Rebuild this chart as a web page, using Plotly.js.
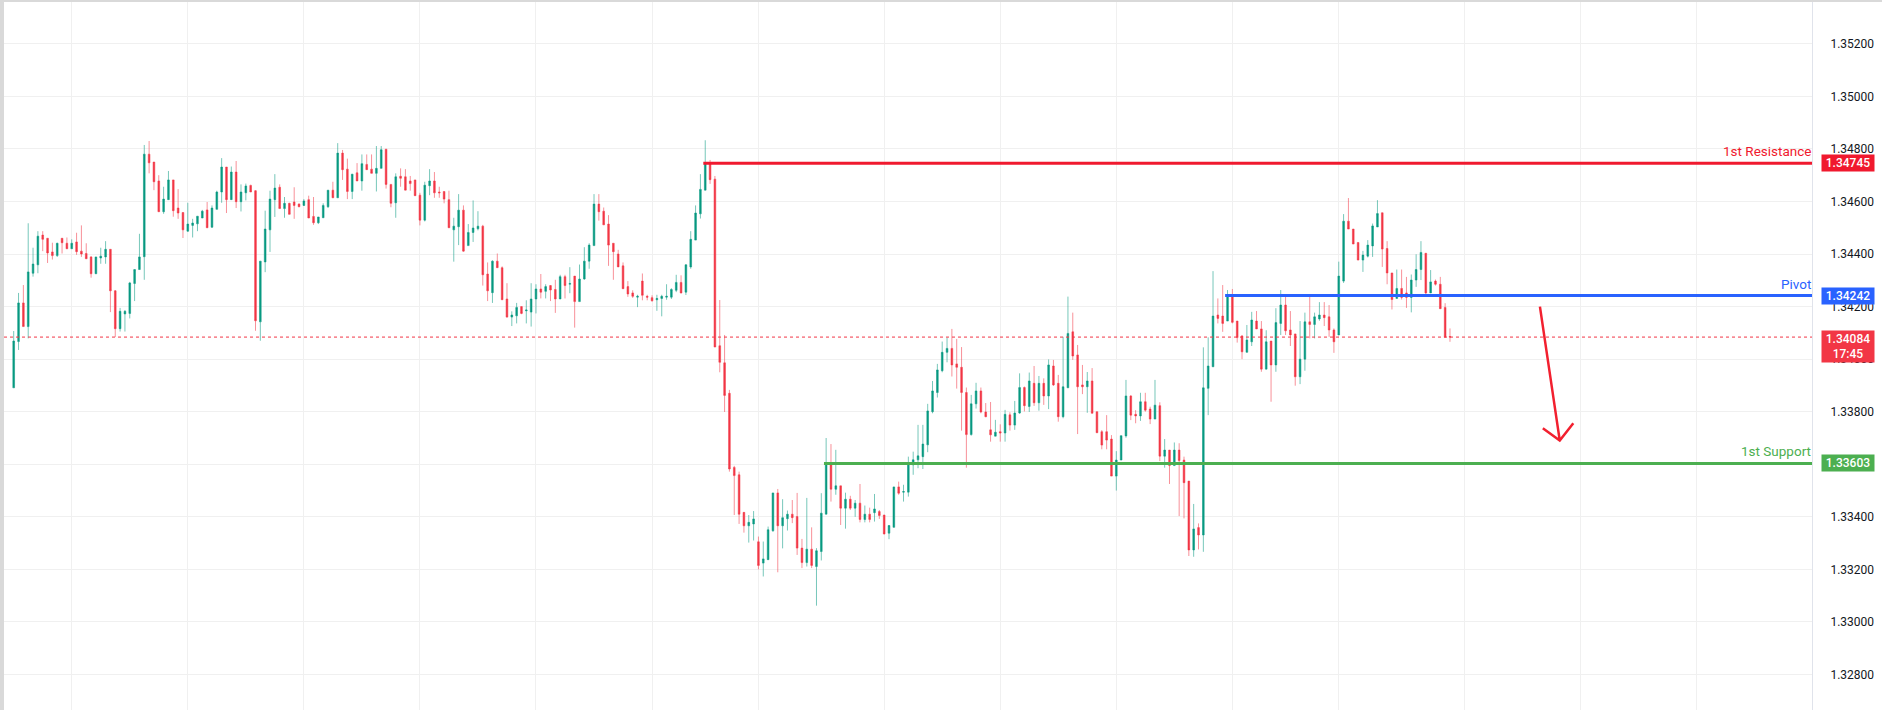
<!DOCTYPE html>
<html>
<head>
<meta charset="utf-8">
<script src="https://cdn.plot.ly/plotly-3.0.1.min.js"></script>
<style>
  html, body { margin: 0; padding: 0; background: #d9d9d9; width: 1882px; height: 710px; overflow: hidden; }
  #chart { position: absolute; left: 4px; top: 2px; width: 1878px; height: 708px; background: #fff; }
</style>
</head>
<body>
<div id="chart"></div>
<script>
// ---------- DATA (hourly candles) ----------
const openP = [
1.33891,1.34067,1.34214,1.34124,1.34327,1.34359,1.34472,1.34460,1.34408,1.34394,
1.34460,1.34441,1.34420,1.34446,1.34411,1.34402,1.34389,1.34325,1.34385,1.34389,
1.34418,1.34260,1.34116,1.34172,1.34174,1.34288,1.34341,1.34390,1.34780,1.34750,
1.34678,1.34561,1.34607,1.34682,1.34575,1.34558,1.34487,1.34509,1.34515,1.34537,
1.34568,1.34502,1.34570,1.34636,1.34731,1.34607,1.34712,1.34599,1.34633,1.34661,
1.34641,1.34142,1.34370,1.34492,1.34607,1.34654,1.34573,1.34593,1.34598,1.34590,
1.34585,1.34607,1.34543,1.34519,1.34538,1.34580,1.34643,1.34614,1.34784,1.34723,
1.34638,1.34709,1.34678,1.34741,1.34723,1.34707,1.34726,1.34799,1.34665,1.34595,
1.34696,1.34694,1.34678,1.34682,1.34624,1.34529,1.34660,1.34678,1.34636,1.34638,
1.34607,1.34492,1.34504,1.34567,1.34432,1.34482,1.34496,1.34506,1.34324,1.34253,
1.34373,1.34348,1.34229,1.34160,1.34165,1.34200,1.34184,1.34179,1.34229,1.34267,
1.34258,1.34280,1.34265,1.34229,1.34314,1.34285,1.34316,1.34219,1.34305,1.34373,
1.34432,1.34590,1.34563,1.34514,1.34441,1.34400,1.34355,1.34276,1.34252,1.34236,
1.34297,1.34239,1.34234,1.34226,1.34231,1.34236,1.34236,1.34262,1.34292,1.34255,
1.34351,1.34453,1.34553,1.34643,1.34746,1.34685,1.34051,1.33986,1.33870,1.33588,
1.33560,1.33417,1.33366,1.33373,1.33305,1.33224,1.33237,1.33347,1.33491,1.33366,
1.33393,1.33410,1.33401,1.33281,1.33226,1.33277,1.33211,1.33268,1.33410,1.33598,
1.33505,1.33518,1.33433,1.33467,1.33433,1.33452,1.33390,1.33410,1.33416,1.33420,
1.33407,1.33338,1.33360,1.33514,1.33494,1.33494,1.33598,1.33617,1.33629,1.33674,
1.33800,1.33873,1.33956,1.34026,1.34041,1.33982,1.33969,1.33873,1.33713,1.33830,
1.33879,1.33799,1.33731,1.33707,1.33724,1.33719,1.33788,1.33749,1.33795,1.33892,
1.33820,1.33908,1.33834,1.33908,1.33860,1.33974,1.33908,1.33781,1.33891,1.34104,
1.34016,1.33902,1.33895,1.33917,1.33800,1.33724,1.33724,1.33696,1.33555,1.33616,
1.33708,1.33860,1.33790,1.33784,1.33838,1.33810,1.33772,1.33823,1.33631,1.33654,
1.33595,1.33654,1.33616,1.33536,1.33274,1.33359,1.33331,1.33889,1.33971,1.34168,
1.34164,1.34145,1.34238,1.34145,1.34088,1.34026,1.34066,1.34145,1.34115,1.33962,
1.34069,1.33978,1.34136,1.34206,1.34111,1.34096,1.33933,1.34000,1.34142,1.34132,
1.34153,1.34168,1.34161,1.34111,1.34092,1.34297,1.34525,1.34495,1.34444,1.34377,
1.34392,1.34431,1.34503,1.34557,1.34421,1.34328,1.34231,1.34269,1.34252,1.34235,
1.34301,1.34341,1.34403,1.34252,1.34297,1.34285,1.34197,1.34086
];
const highP = [
1.34107,1.34252,1.34282,1.34517,1.34424,1.34487,1.34487,1.34460,1.34443,1.34443,
1.34460,1.34463,1.34456,1.34481,1.34509,1.34441,1.34392,1.34389,1.34424,1.34449,
1.34418,1.34263,1.34195,1.34187,1.34294,1.34341,1.34477,1.34815,1.34830,1.34750,
1.34700,1.34656,1.34716,1.34682,1.34647,1.34558,1.34595,1.34534,1.34544,1.34568,
1.34598,1.34585,1.34641,1.34765,1.34731,1.34733,1.34754,1.34665,1.34668,1.34664,
1.34643,1.34373,1.34565,1.34641,1.34704,1.34665,1.34617,1.34595,1.34654,1.34593,
1.34609,1.34622,1.34617,1.34541,1.34593,1.34643,1.34675,1.34822,1.34796,1.34763,
1.34704,1.34746,1.34779,1.34779,1.34779,1.34811,1.34811,1.34799,1.34665,1.34707,
1.34726,1.34723,1.34697,1.34682,1.34633,1.34675,1.34723,1.34712,1.34656,1.34638,
1.34641,1.34538,1.34628,1.34585,1.34514,1.34604,1.34563,1.34511,1.34368,1.34376,
1.34402,1.34353,1.34289,1.34182,1.34214,1.34200,1.34224,1.34289,1.34285,1.34324,
1.34285,1.34282,1.34302,1.34321,1.34321,1.34350,1.34316,1.34360,1.34426,1.34441,
1.34628,1.34628,1.34577,1.34548,1.34441,1.34416,1.34368,1.34297,1.34262,1.34245,
1.34326,1.34245,1.34243,1.34245,1.34245,1.34285,1.34270,1.34321,1.34319,1.34361,
1.34487,1.34585,1.34704,1.34833,1.34758,1.34697,1.34225,1.34092,1.33883,1.33594,
1.33572,1.33417,1.33407,1.33422,1.33325,1.33306,1.33363,1.33491,1.33506,1.33467,
1.33424,1.33464,1.33491,1.33316,1.33472,1.33360,1.33281,1.33490,1.33700,1.33677,
1.33655,1.33518,1.33492,1.33480,1.33464,1.33525,1.33443,1.33435,1.33487,1.33426,
1.33407,1.33369,1.33514,1.33534,1.33522,1.33629,1.33648,1.33750,1.33750,1.33830,
1.33917,1.33982,1.34067,1.34082,1.34115,1.34077,1.34046,1.33892,1.33864,1.33910,
1.33892,1.33833,1.33837,1.33769,1.33752,1.33807,1.33798,1.33841,1.33946,1.33896,
1.33949,1.33974,1.33936,1.33927,1.33999,1.33997,1.33940,1.34085,1.34238,1.34177,
1.34054,1.33978,1.33951,1.33966,1.33800,1.33730,1.33787,1.33711,1.33650,1.33709,
1.33921,1.33863,1.33806,1.33872,1.33872,1.33819,1.33921,1.33836,1.33696,1.33654,
1.33683,1.33680,1.33629,1.33536,1.33449,1.33375,1.34045,1.34083,1.34335,1.34231,
1.34282,1.34263,1.34267,1.34145,1.34092,1.34130,1.34180,1.34183,1.34145,1.34110,
1.34069,1.34194,1.34263,1.34238,1.34183,1.34096,1.34145,1.34177,1.34244,1.34177,
1.34217,1.34217,1.34206,1.34117,1.34371,1.34552,1.34613,1.34495,1.34444,1.34412,
1.34453,1.34516,1.34605,1.34557,1.34449,1.34328,1.34341,1.34341,1.34313,1.34322,
1.34399,1.34449,1.34403,1.34339,1.34303,1.34313,1.34213,1.34117
];
const lowP = [
1.33891,1.34035,1.34124,1.34079,1.34314,1.34327,1.34411,1.34366,1.34379,1.34389,
1.34402,1.34420,1.34420,1.34397,1.34389,1.34382,1.34310,1.34325,1.34363,1.34363,
1.34179,1.34084,1.34105,1.34105,1.34155,1.34221,1.34341,1.34302,1.34707,1.34643,
1.34561,1.34553,1.34607,1.34542,1.34534,1.34461,1.34485,1.34463,1.34487,1.34537,
1.34500,1.34500,1.34570,1.34595,1.34556,1.34607,1.34575,1.34562,1.34604,1.34636,
1.34108,1.34070,1.34331,1.34408,1.34541,1.34573,1.34538,1.34551,1.34534,1.34578,
1.34583,1.34537,1.34511,1.34514,1.34538,1.34575,1.34614,1.34614,1.34682,1.34609,
1.34609,1.34678,1.34641,1.34721,1.34707,1.34638,1.34726,1.34649,1.34578,1.34538,
1.34656,1.34643,1.34641,1.34622,1.34509,1.34524,1.34624,1.34614,1.34614,1.34593,
1.34500,1.34371,1.34434,1.34409,1.34432,1.34446,1.34490,1.34280,1.34221,1.34214,
1.34348,1.34226,1.34158,1.34126,1.34136,1.34171,1.34136,1.34124,1.34174,1.34231,
1.34231,1.34221,1.34176,1.34229,1.34231,1.34251,1.34120,1.34219,1.34302,1.34344,
1.34432,1.34527,1.34511,1.34355,1.34302,1.34351,1.34268,1.34237,1.34233,1.34198,
1.34224,1.34224,1.34219,1.34184,1.34163,1.34226,1.34229,1.34255,1.34250,1.34244,
1.34344,1.34453,1.34535,1.34643,1.34667,1.34046,1.33950,1.33799,1.33572,1.33407,
1.33373,1.33340,1.33302,1.33310,1.33200,1.33173,1.33237,1.33343,1.33189,1.33280,
1.33348,1.33376,1.33255,1.33205,1.33211,1.33205,1.33062,1.33234,1.33410,1.33458,
1.33484,1.33369,1.33355,1.33426,1.33400,1.33379,1.33379,1.33379,1.33382,1.33392,
1.33333,1.33315,1.33360,1.33484,1.33458,1.33477,1.33560,1.33585,1.33582,1.33646,
1.33794,1.33854,1.33950,1.33988,1.33934,1.33888,1.33728,1.33587,1.33709,1.33812,
1.33794,1.33779,1.33686,1.33707,1.33686,1.33686,1.33728,1.33731,1.33792,1.33801,
1.33799,1.33822,1.33804,1.33826,1.33810,1.33898,1.33762,1.33775,1.33891,1.33997,
1.33715,1.33867,1.33796,1.33794,1.33720,1.33657,1.33657,1.33555,1.33500,1.33616,
1.33701,1.33768,1.33756,1.33765,1.33800,1.33753,1.33772,1.33612,1.33587,1.33525,
1.33595,1.33403,1.33394,1.33251,1.33248,1.33276,1.33267,1.33787,1.33971,1.34136,
1.34104,1.34145,1.34136,1.34063,1.34000,1.34026,1.34050,1.34115,1.33952,1.33962,
1.33838,1.33952,1.34092,1.34092,1.34050,1.33899,1.33905,1.33956,1.34079,1.34079,
1.34146,1.34126,1.34085,1.34024,1.34092,1.34290,1.34495,1.34438,1.34377,1.34332,
1.34387,1.34389,1.34503,1.34351,1.34285,1.34189,1.34231,1.34227,1.34195,1.34178,
1.34275,1.34301,1.34244,1.34252,1.34280,1.34192,1.34083,1.34066
];
const closeP = [
1.34069,1.34214,1.34124,1.34332,1.34362,1.34468,1.34456,1.34404,1.34394,1.34441,
1.34443,1.34420,1.34441,1.34409,1.34400,1.34382,1.34325,1.34389,1.34392,1.34418,
1.34260,1.34116,1.34182,1.34182,1.34290,1.34341,1.34389,1.34780,1.34747,1.34675,
1.34561,1.34609,1.34682,1.34565,1.34556,1.34492,1.34514,1.34518,1.34544,1.34563,
1.34500,1.34575,1.34636,1.34731,1.34607,1.34712,1.34599,1.34636,1.34659,1.34636,
1.34146,1.34373,1.34495,1.34609,1.34651,1.34573,1.34593,1.34551,1.34585,1.34580,
1.34602,1.34537,1.34519,1.34541,1.34585,1.34643,1.34614,1.34784,1.34721,1.34638,
1.34704,1.34678,1.34744,1.34721,1.34707,1.34726,1.34797,1.34665,1.34593,1.34694,
1.34688,1.34643,1.34668,1.34622,1.34529,1.34662,1.34678,1.34633,1.34633,1.34609,
1.34500,1.34506,1.34567,1.34411,1.34482,1.34499,1.34506,1.34321,1.34260,1.34373,
1.34348,1.34226,1.34160,1.34168,1.34197,1.34174,1.34187,1.34229,1.34267,1.34255,
1.34276,1.34263,1.34229,1.34314,1.34280,1.34288,1.34219,1.34305,1.34373,1.34434,
1.34590,1.34561,1.34511,1.34434,1.34409,1.34351,1.34268,1.34248,1.34239,1.34239,
1.34243,1.34236,1.34222,1.34231,1.34239,1.34239,1.34265,1.34292,1.34252,1.34359,
1.34456,1.34556,1.34646,1.34746,1.34683,1.34046,1.33988,1.33862,1.33582,1.33557,
1.33410,1.33366,1.33379,1.33392,1.33215,1.33240,1.33351,1.33491,1.33366,1.33397,
1.33410,1.33397,1.33281,1.33226,1.33277,1.33215,1.33271,1.33414,1.33604,1.33505,
1.33518,1.33433,1.33467,1.33433,1.33452,1.33390,1.33410,1.33390,1.33430,1.33405,
1.33335,1.33367,1.33514,1.33490,1.33496,1.33604,1.33617,1.33632,1.33677,1.33803,
1.33879,1.33959,1.34026,1.34041,1.33978,1.33969,1.33873,1.33713,1.33830,1.33879,
1.33799,1.33781,1.33712,1.33722,1.33719,1.33790,1.33749,1.33795,1.33892,1.33823,
1.33917,1.33834,1.33908,1.33860,1.33978,1.33902,1.33781,1.33895,1.34098,1.34012,
1.33895,1.33895,1.33917,1.33794,1.33720,1.33673,1.33692,1.33555,1.33616,1.33709,
1.33860,1.33787,1.33784,1.33838,1.33806,1.33772,1.33825,1.33631,1.33654,1.33595,
1.33654,1.33614,1.33530,1.33274,1.33354,1.33331,1.33891,1.33974,1.34164,1.34155,
1.34136,1.34244,1.34140,1.34082,1.34028,1.34073,1.34149,1.34115,1.33962,1.34066,
1.33978,1.34139,1.34206,1.34108,1.34092,1.33933,1.34000,1.34142,1.34132,1.34161,
1.34168,1.34158,1.34111,1.34066,1.34316,1.34525,1.34495,1.34438,1.34377,1.34396,
1.34434,1.34507,1.34554,1.34419,1.34328,1.34227,1.34269,1.34235,1.34235,1.34301,
1.34341,1.34406,1.34252,1.34294,1.34285,1.34192,1.34083,1.34084
];

// Daily separators (bar index of each time-axis mark)
const dayMarks = [12, 36, 60, 84, 108, 132, 154, 180, 204, 228, 252, 274, 300, 324, 348];
// Price axis ticks
const priceTicks = [1.328, 1.330, 1.332, 1.334, 1.336, 1.338, 1.340, 1.342, 1.344, 1.346, 1.348, 1.350, 1.352];

// Key levels
const levelNames  = ['1st Resistance', 'Pivot', '1st Support'];
const levelValues = [1.34745, 1.34242, 1.33603];
const levelStart  = [142.6, 250.5, 167.55];   // bar index where each level is drawn from
const levelColors = ['#F0192E', '#2962FF', '#4CAF50'];

// Drawn projection arrow (bar index, price)
const arrowFrom  = [315.6, 1.34200];
const arrowTip   = [319.7, 1.33690];
const arrowHeadL = [316.2, 1.33737];
const arrowHeadR = [322.5, 1.33756];

const countdown = '17:45';

// ---------- CHART ----------
const xIdx = closeP.map((_, i) => i);
const xRange = [-2.006, 371.86];
const yRange = [1.32665, 1.35359];
const lastClose = closeP[closeP.length - 1];
const FONT = 'Roboto, "Open Sans", Arial, sans-serif';

const trace = {
  type: 'candlestick',
  x: xIdx, open: openP, high: highP, low: lowP, close: closeP,
  increasing: { line: { color: 'rgba(8,153,129,0.55)', width: 1 }, fillcolor: '#089981' },
  decreasing: { line: { color: 'rgba(242,54,69,0.55)', width: 1 }, fillcolor: '#F23645' },
  whiskerwidth: 0,
  hoverinfo: 'skip',
  showlegend: false
};

const shapes = [];
// current price dotted line
shapes.push({ type: 'line', xref: 'paper', x0: 0, x1: 1, yref: 'y', y0: lastClose, y1: lastClose,
  line: { color: '#F23645', width: 1, dash: 'dot' }, layer: 'above' });
// level lines
levelValues.forEach((v, k) => {
  shapes.push({ type: 'line', xref: 'x', x0: levelStart[k], x1: xRange[1], yref: 'y', y0: v, y1: v,
    line: { color: levelColors[k], width: 3 }, layer: 'above' });
});
// arrow
shapes.push({ type: 'path', xref: 'x', yref: 'y', layer: 'above',
  path: `M ${arrowFrom[0]},${arrowFrom[1]} L ${arrowTip[0]},${arrowTip[1]} M ${arrowHeadL[0]},${arrowHeadL[1]} L ${arrowTip[0]},${arrowTip[1]} L ${arrowHeadR[0]},${arrowHeadR[1]}`,
  line: { color: '#F2202F', width: 2.5 } });

const annotations = [];
const boxX = (1821 - 4) / 1808; // left edge of price boxes, in paper units
levelValues.forEach((v, k) => {
  // text label above line
  annotations.push({ xref: 'paper', x: 1, xanchor: 'right', yref: 'y', y: v, yanchor: 'middle', yshift: 12,
    text: levelNames[k], showarrow: false, font: { family: FONT, size: 13.5, color: levelColors[k] }, borderpad: 0 });
  // price box
  annotations.push({ xref: 'paper', x: boxX, xanchor: 'left', yref: 'y', y: v, yanchor: 'middle',
    text: v.toFixed(5), showarrow: false, bgcolor: levelColors[k], width: 48, height: 12, borderpad: 2,
    font: { family: FONT, size: 12, color: '#ffffff', weight: 500 } });
});
// current price box
annotations.push({ xref: 'paper', x: boxX, xanchor: 'left', yref: 'y', y: lastClose, yanchor: 'top', yshift: 7,
  text: lastClose.toFixed(5) + '<br>' + countdown, showarrow: false, bgcolor: '#F23645', width: 48, height: 27, borderpad: 2,
  font: { family: FONT, size: 12, color: '#ffffff', weight: 500 } });

const layout = {
  width: 1878, height: 708,
  margin: { l: 0, r: 70, t: 0, b: 0, pad: 0 },
  paper_bgcolor: '#ffffff', plot_bgcolor: '#ffffff',
  showlegend: false,
  boxgap: 0.5,
  xaxis: {
    range: xRange, type: 'linear', tickvals: dayMarks, showticklabels: false, ticks: '',
    showgrid: true, gridcolor: '#F0F0F0', gridwidth: 1, zeroline: false, showline: false,
    rangeslider: { visible: false }, fixedrange: true
  },
  yaxis: {
    side: 'right', range: yRange, tickvals: priceTicks, tickformat: '.5f', ticks: '',
    showgrid: true, gridcolor: '#F0F0F0', gridwidth: 1, zeroline: false,
    showline: true, linecolor: '#E0E3EB', linewidth: 1,
    ticklabelstandoff: 15,
    tickfont: { family: FONT, size: 12, color: '#131722' }, fixedrange: true
  },
  shapes: shapes,
  annotations: annotations
};

Plotly.newPlot('chart', [trace], layout, { staticPlot: true, displayModeBar: false });
</script>
</body>
</html>
